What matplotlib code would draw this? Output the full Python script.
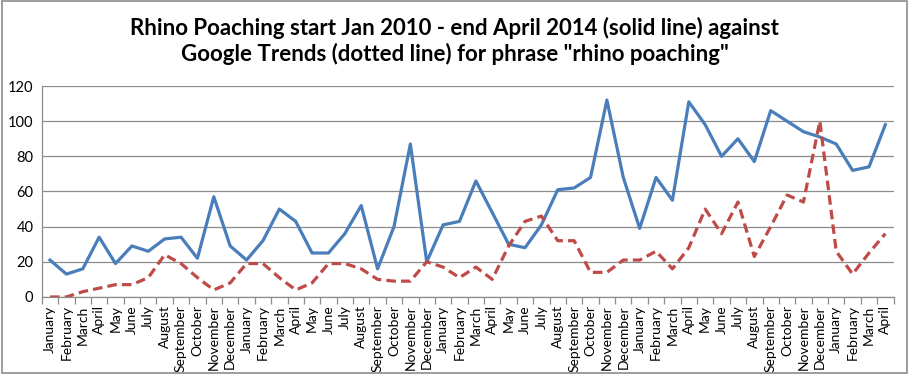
import matplotlib
matplotlib.use("Agg")
import matplotlib.pyplot as plt
from matplotlib.patches import Rectangle
from matplotlib.ticker import FixedLocator, NullFormatter

month_names = ["January", "February", "March", "April", "May", "June", "July",
               "August", "September", "October", "November", "December"]
months = month_names * 4 + month_names[:4]

poaching = [21, 13, 16, 34, 19, 29, 26, 33, 34, 22, 57, 29,
            21, 32, 50, 43, 25, 25, 36, 52, 16, 40, 87, 20,
            41, 43, 66, 48, 30, 28, 41, 61, 62, 68, 112, 68,
            39, 68, 55, 111, 98, 80, 90, 77, 106, 100, 94, 91,
            87, 72, 74, 98]

trends = [0, 0, 3, 5, 7, 7, 11, 24, 19, 11, 4, 8,
          19, 19, 11, 4, 8, 19, 19, 16, 10, 9, 9, 20,
          17, 11, 17, 10, 29, 43, 46, 32, 32, 14, 14, 21,
          21, 26, 16, 28, 50, 36, 54, 23, 40, 58, 54, 100,
          26, 13, 25, 36]

plt.rcParams['font.family'] = ['Lato', 'DejaVu Sans']

fig = plt.figure(figsize=(9.09, 3.74), dpi=100)
ax = fig.add_axes([0.046, 0.206, 0.937, 0.564])

x = list(range(len(months)))
ax.plot(x, poaching, color="#4A7EBB", linewidth=2.3, solid_joinstyle="round")
ax.plot(x, trends, color="#BE4B48", linewidth=2.3, linestyle=(0, (3, 1.6)))

ax.set_xlim(-0.5, len(months) - 0.5)
ax.set_ylim(0, 120)
ax.set_yticks(range(0, 121, 20))
ax.yaxis.grid(True, color="#8c8c8c", linewidth=0.9)
ax.set_axisbelow(True)
ax.tick_params(axis="y", length=0, labelsize=10.5, pad=6)

ax.set_xticks(x)
ax.set_xticklabels(months, rotation=90, fontsize=10)
ax.tick_params(axis="x", which="major", length=0, pad=6)
ax.xaxis.set_minor_locator(FixedLocator([i - 0.5 for i in range(len(months) + 1)]))
ax.xaxis.set_minor_formatter(NullFormatter())
ax.tick_params(axis="x", which="minor", length=5, color="#8c8c8c", width=0.9)

for side in ["top", "right"]:
    ax.spines[side].set_visible(False)
for side in ["left", "bottom"]:
    ax.spines[side].set_color("#8c8c8c")
    ax.spines[side].set_linewidth(0.9)

fig.text(0.5, 0.89, "Rhino Poaching start Jan 2010 - end April 2014 (solid line) against\n"
         "Google Trends (dotted line) for phrase \"rhino poaching\"",
         ha="center", va="center", fontsize=16, fontweight="bold", linespacing=1.25)

fig.patches.append(Rectangle((0.002, 0.004), 0.996, 0.992, transform=fig.transFigure,
                             fill=False, edgecolor="#8c8c8c", linewidth=1.2))

fig.savefig("out.png", dpi=100)
